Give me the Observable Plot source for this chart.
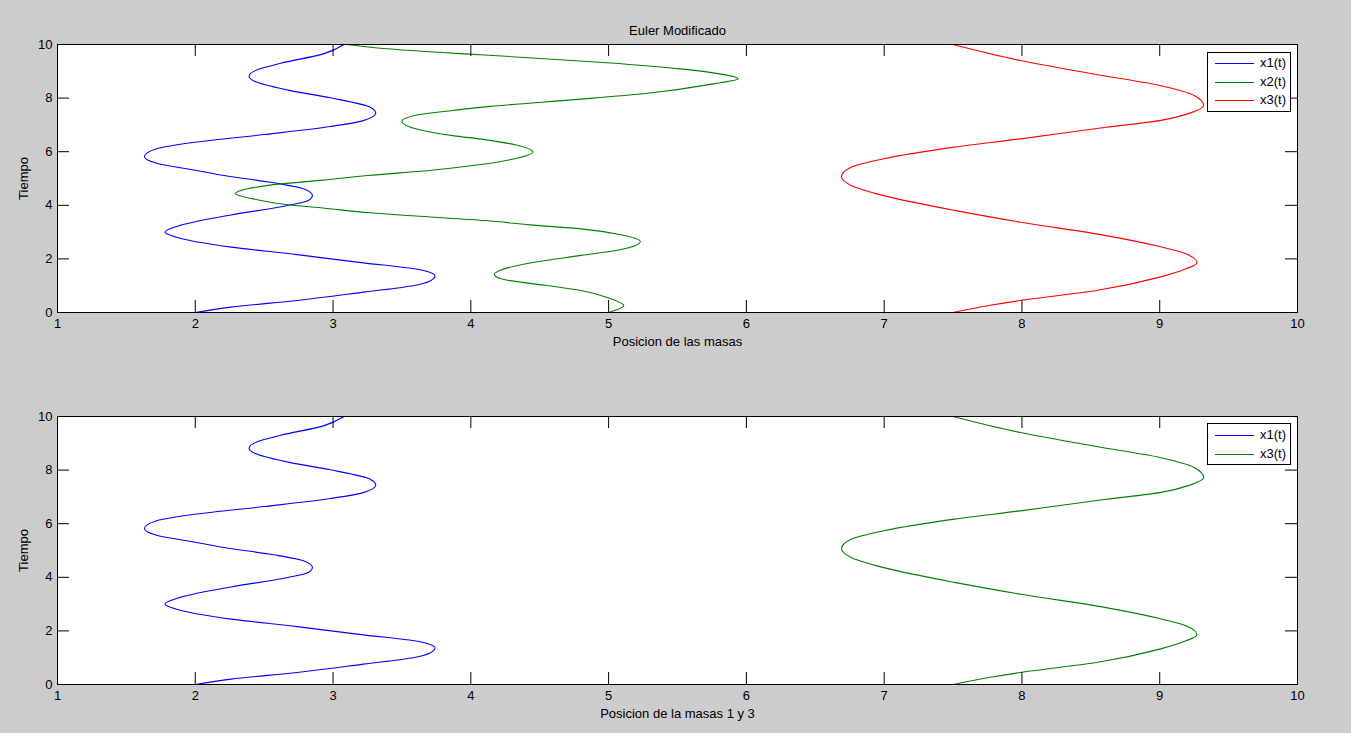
<!DOCTYPE html>
<html>
<head>
<meta charset="utf-8">
<script src="https://cdn.jsdelivr.net/npm/d3@7"></script>
<script src="https://cdn.jsdelivr.net/npm/@observablehq/plot@0.6"></script>
<style>
  html, body { margin: 0; padding: 0; background: #cccccc; }
  #wrap { position: relative; width: 1351px; height: 733px; overflow: hidden; background: #cccccc; font-family: "Liberation Sans", Arial, sans-serif; }
  .plotbox { position: absolute; left: 0; }
  .legend { position: absolute; left: 1207px; width: 82px; background: white; border: 1px solid black; font-size: 13px; }
  .legend .row { position: absolute; left: 0; height: 16px; }
  .legend svg { position: absolute; left: 7px; top: 0; }
  .legend span { position: absolute; left: 52px; top: 0; line-height: 16px; white-space: nowrap; }
</style>
</head>
<body>
<div id="wrap"></div>
<script>
// ---- data ----
const title = "Euler Modificado";
const yLabel = "Tiempo";
const xLabelTop = "Posicion de las masas";
const xLabelBottom = "Posicion de la masas 1 y 3";
const xTicks = [1, 2, 3, 4, 5, 6, 7, 8, 9, 10];
const yTicks = [0, 2, 4, 6, 8, 10];

// x1(t)
const t1 = [0, 0.20, 0.45, 0.76, 1.01, 1.17, 1.36, 1.52, 1.63, 1.85, 2.16, 2.44, 2.77, 3.0, 3.25, 3.64, 3.99, 4.18, 4.37, 4.61, 4.84, 5.11, 5.30, 5.57, 5.82, 6.11, 6.36, 6.64, 6.94, 7.16, 7.44, 7.66, 8.01, 8.28, 8.59, 8.81, 9.06, 9.30, 9.65, 10];
const x1 = [2.0, 2.26, 2.74, 3.22, 3.59, 3.70, 3.74, 3.69, 3.59, 3.22, 2.74, 2.26, 1.89, 1.78, 1.89, 2.26, 2.67, 2.82, 2.85, 2.79, 2.57, 2.21, 2.01, 1.72, 1.63, 1.72, 2.01, 2.50, 2.98, 3.22, 3.31, 3.27, 2.98, 2.69, 2.45, 2.39, 2.45, 2.62, 2.93, 3.08];

// x2(t)
const t2 = [0, 0.26, 0.54, 0.82, 1.01, 1.23, 1.42, 1.57, 1.85, 2.13, 2.35, 2.65, 2.90, 3.12, 3.27, 3.43, 3.59, 3.72, 3.91, 4.02, 4.24, 4.43, 4.62, 4.80, 4.93, 5.11, 5.30, 5.52, 5.73, 5.98, 6.25, 6.45, 6.60, 6.82, 7.14, 7.39, 7.54, 7.69, 7.96, 8.18, 8.53, 8.72, 8.94, 9.09, 9.32, 9.61, 9.71, 9.84, 10];
const x2 = [5.0, 5.11, 5.0, 4.80, 4.55, 4.24, 4.17, 4.21, 4.43, 4.80, 5.09, 5.23, 5.09, 4.80, 4.43, 4.10, 3.63, 3.27, 2.91, 2.67, 2.42, 2.29, 2.38, 2.62, 2.91, 3.25, 3.70, 4.07, 4.31, 4.45, 4.33, 4.10, 3.87, 3.63, 3.50, 3.63, 3.87, 4.14, 4.80, 5.28, 5.76, 5.94, 5.76, 5.52, 4.99, 4.10, 3.76, 3.39, 3.10];

// x3(t)
const t3 = [0, 0.26, 0.45, 0.82, 1.32, 1.63, 1.85, 2.19, 2.46, 2.87, 3.37, 3.81, 4.37, 4.74, 5.07, 5.42, 5.73, 6.17, 6.48, 6.91, 7.16, 7.44, 7.72, 8.10, 8.47, 8.88, 9.40, 10];
const x3 = [7.5, 7.76, 7.99, 8.54, 9.0, 9.19, 9.27, 9.19, 9.0, 8.61, 7.99, 7.51, 6.99, 6.76, 6.69, 6.76, 6.99, 7.51, 7.99, 8.61, 9.0, 9.22, 9.32, 9.25, 9.0, 8.54, 7.99, 7.5];

const seriesTop = [
  {name: "x1(t)", t: t1, x: x1, color: "#0000ff"},
  {name: "x2(t)", t: t2, x: x2, color: "#008000"},
  {name: "x3(t)", t: t3, x: x3, color: "#ff0000"}
];
const seriesBottom = [
  {name: "x1(t)", t: t1, x: x1, color: "#0000ff"},
  {name: "x3(t)", t: t3, x: x3, color: "#008000"}
];

// ---- drawing ----
const W = 1351;
const ML = 57, MR = W - 1297;
const TK = 12;

function makePlot({height, marginTop, marginBottom, series, xLabel, withTitle}) {
  const innerH = height - marginTop - marginBottom;
  const innerW = W - ML - MR;
  const marks = [
    Plot.frame({fill: "white"}),
    ...series.map(s => Plot.line(s.t.map((t, i) => ({t, x: s.x[i]})), {
      x: "x", y: "t", stroke: s.color, strokeWidth: 1.1, curve: "monotone-y"
    })),
    Plot.tickX(xTicks, {x: d => d, insetTop: innerH - TK, stroke: "black"}),
    Plot.tickX(xTicks, {x: d => d, insetBottom: innerH - TK, stroke: "black"}),
    Plot.tickY(yTicks, {y: d => d, insetRight: innerW - TK, stroke: "black"}),
    Plot.tickY(yTicks, {y: d => d, insetLeft: innerW - TK, stroke: "black"}),
    Plot.axisX({ticks: xTicks, tickSize: 0, tickPadding: 6, label: null, tickFormat: d => String(d)}),
    Plot.axisY({ticks: yTicks, tickSize: 0, tickPadding: 5, label: null, tickFormat: d => String(d)}),
    Plot.text([xLabel], {text: d => d, frameAnchor: "bottom", dy: 29, lineAnchor: "middle", textAnchor: "middle", fill: "black"}),
    Plot.text([yLabel], {text: d => d, frameAnchor: "left", dx: -34, rotate: -90, lineAnchor: "middle", textAnchor: "middle", fill: "black"}),
    Plot.frame({stroke: "black"})
  ];
  if (withTitle) {
    marks.push(Plot.text([title], {text: d => d, frameAnchor: "top", dy: -14, lineAnchor: "middle", textAnchor: "middle", fill: "black"}));
  }
  return Plot.plot({
    width: W, height,
    marginLeft: ML, marginRight: MR, marginTop, marginBottom,
    style: {background: "transparent", color: "black", fontFamily: "'Liberation Sans', Arial, sans-serif", fontSize: "13px", overflow: "visible"},
    x: {domain: [1, 10]},
    y: {domain: [0, 10]},
    marks
  });
}

function makeLegend(series, top, rowYs, boxH) {
  const lg = document.createElement("div");
  lg.className = "legend";
  lg.style.top = top + "px";
  lg.style.height = boxH + "px";
  series.forEach((s, i) => {
    const row = document.createElement("div");
    row.className = "row";
    row.style.top = (rowYs[i] - 8) + "px";
    row.style.width = "82px";
    row.innerHTML = `<svg width="40" height="16"><line x1="0" x2="39" y1="8.5" y2="8.5" stroke="${s.color}" stroke-width="1"/></svg><span>${s.name}</span>`;
    lg.appendChild(row);
  });
  return lg;
}

const wrap = document.getElementById("wrap");

const p1 = makePlot({height: 370, marginTop: 44, marginBottom: 58, series: seriesTop, xLabel: xLabelTop, withTitle: true});
const b1 = document.createElement("div"); b1.className = "plotbox"; b1.style.top = "0px"; b1.appendChild(p1);
wrap.appendChild(b1);

const p2 = makePlot({height: 363, marginTop: 46, marginBottom: 49, series: seriesBottom, xLabel: xLabelBottom, withTitle: false});
const b2 = document.createElement("div"); b2.className = "plotbox"; b2.style.top = "370px"; b2.appendChild(p2);
wrap.appendChild(b2);

// legends (row centres relative to box top)
wrap.appendChild(makeLegend(seriesTop, 52, [10, 29, 47], 58));
wrap.appendChild(makeLegend(seriesBottom, 423, [11, 30], 40));
</script>
</body>
</html>
